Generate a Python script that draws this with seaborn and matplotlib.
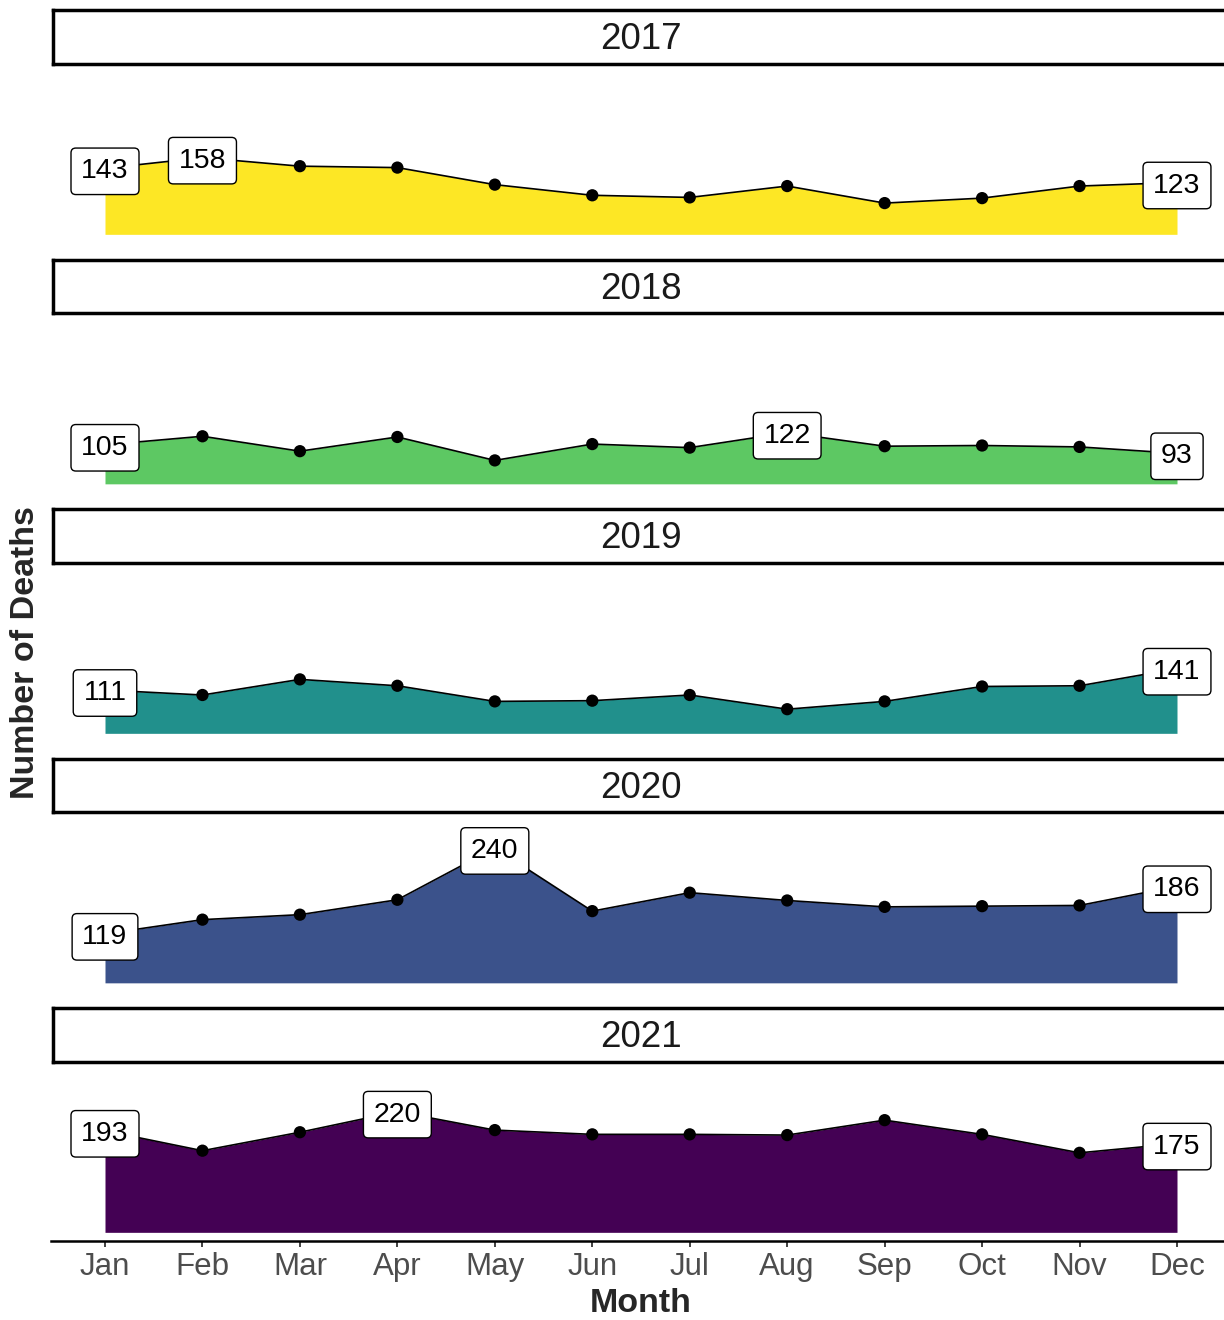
import matplotlib
matplotlib.use('Agg')
import matplotlib.pyplot as plt
import seaborn as sns
import numpy as np
import pandas as pd

years = [2017, 2018, 2019, 2020, 2021]
months = ['Jan', 'Feb', 'Mar', 'Apr', 'May', 'Jun', 'Jul', 'Aug', 'Sep', 'Oct', 'Nov', 'Dec']
deaths_2017 = [143, 158, 146, 144, 120, 105, 102, 118, 94, 101, 118, 123]
deaths_2018 = [105, 117, 96, 116, 83, 106, 101, 122, 103, 104, 102, 93]
deaths_2019 = [111, 104, 126, 117, 95, 96, 104, 84, 95, 116, 117, 141]
deaths_2020 = [119, 139, 146, 167, 240, 151, 177, 166, 157, 158, 159, 186]
deaths_2021 = [193, 165, 191, 220, 194, 188, 188, 187, 208, 188, 162, 175]
year_colors = ['#FDE725', '#5DC863', '#21908C', '#3B528B', '#440154']

all_deaths = [deaths_2017, deaths_2018, deaths_2019, deaths_2020, deaths_2021]
rows = []
for y, vals in zip(years, all_deaths):
    for m, v in enumerate(vals):
        rows.append({'year': y, 'month': m + 1, 'deaths': v})
df = pd.DataFrame(rows)

sns.set_theme(style='white')
plt.rcParams['font.family'] = ['Liberation Sans', 'DejaVu Sans']

W, H = 1224, 1320
fig = plt.figure(figsize=(W / 100, H / 100), dpi=100)

base = 50
ylo, yhi = 38.5, 288.5
step = 249.5
px_left, px_right = 51.4, 1230.6

for i, y in enumerate(years):
    sub = df[df['year'] == y]
    top = 65 + step * i
    ax = fig.add_axes([px_left / W, 1 - (top + 177.5) / H, (px_right - px_left) / W, 177.5 / H])
    ax.fill_between(sub['month'], base, sub['deaths'], color=year_colors[i], lw=0, zorder=1)
    sns.lineplot(data=sub, x='month', y='deaths', color='black', lw=1.2, ax=ax, zorder=2)
    sns.scatterplot(data=sub, x='month', y='deaths', color='black', s=78, edgecolor='none', ax=ax, zorder=3)

    # label first, last and max month
    vals = sub['deaths'].to_numpy()
    idx = sorted({0, len(vals) - 1, int(np.argmax(vals))})
    for k in idx:
        ax.text(k + 1, vals[k], str(vals[k]), ha='center', va='center_baseline', fontsize=20.5,
                color='black', zorder=5,
                bbox=dict(boxstyle='round,pad=0.36,rounding_size=0.17', fc='white', ec='black', lw=1))

    ax.set_xlim(0.45, 12.55)
    ax.set_ylim(ylo, yhi)
    ax.set_xlabel('')
    ax.set_ylabel('')
    ax.set_yticks([])
    for s in ['top', 'left', 'right']:
        ax.spines[s].set_visible(False)
    if i < len(years) - 1:
        ax.spines['bottom'].set_visible(False)
        ax.set_xticks([])
    else:
        ax.spines['bottom'].set_color('black')
        ax.spines['bottom'].set_linewidth(1.8)
        ax.set_xticks(range(1, 13))
        ax.set_xticklabels(months)
        ax.tick_params(axis='x', bottom=True, length=4.5, width=1.3, color='#333333',
                       labelsize=22.5, labelcolor='#4D4D4D', pad=4)

    # strip
    st = 10 + step * i
    sax = fig.add_axes([53 / W, 1 - (st + 53.7) / H, (1232 - 53) / W, 53.7 / H])
    sax.set_xticks([])
    sax.set_yticks([])
    sax.set_facecolor('white')
    for s in sax.spines.values():
        s.set_visible(True)
        s.set_color('black')
        s.set_linewidth(2.5)
    sax.text((641 - 53) / (1232 - 53), 0.45, str(y), ha='center', va='center', fontsize=26.5,
             color='#1A1A1A', transform=sax.transAxes)

fig.text(641 / W, 1 - 1303 / H, 'Month', ha='center', va='center', fontsize=24.5, fontweight='bold')
fig.text(26 / W, 1 - 652.5 / H, 'Number of Deaths', ha='center', va='center', rotation=90,
         fontsize=24.5, fontweight='bold')

fig.savefig('out.png', dpi=100)
